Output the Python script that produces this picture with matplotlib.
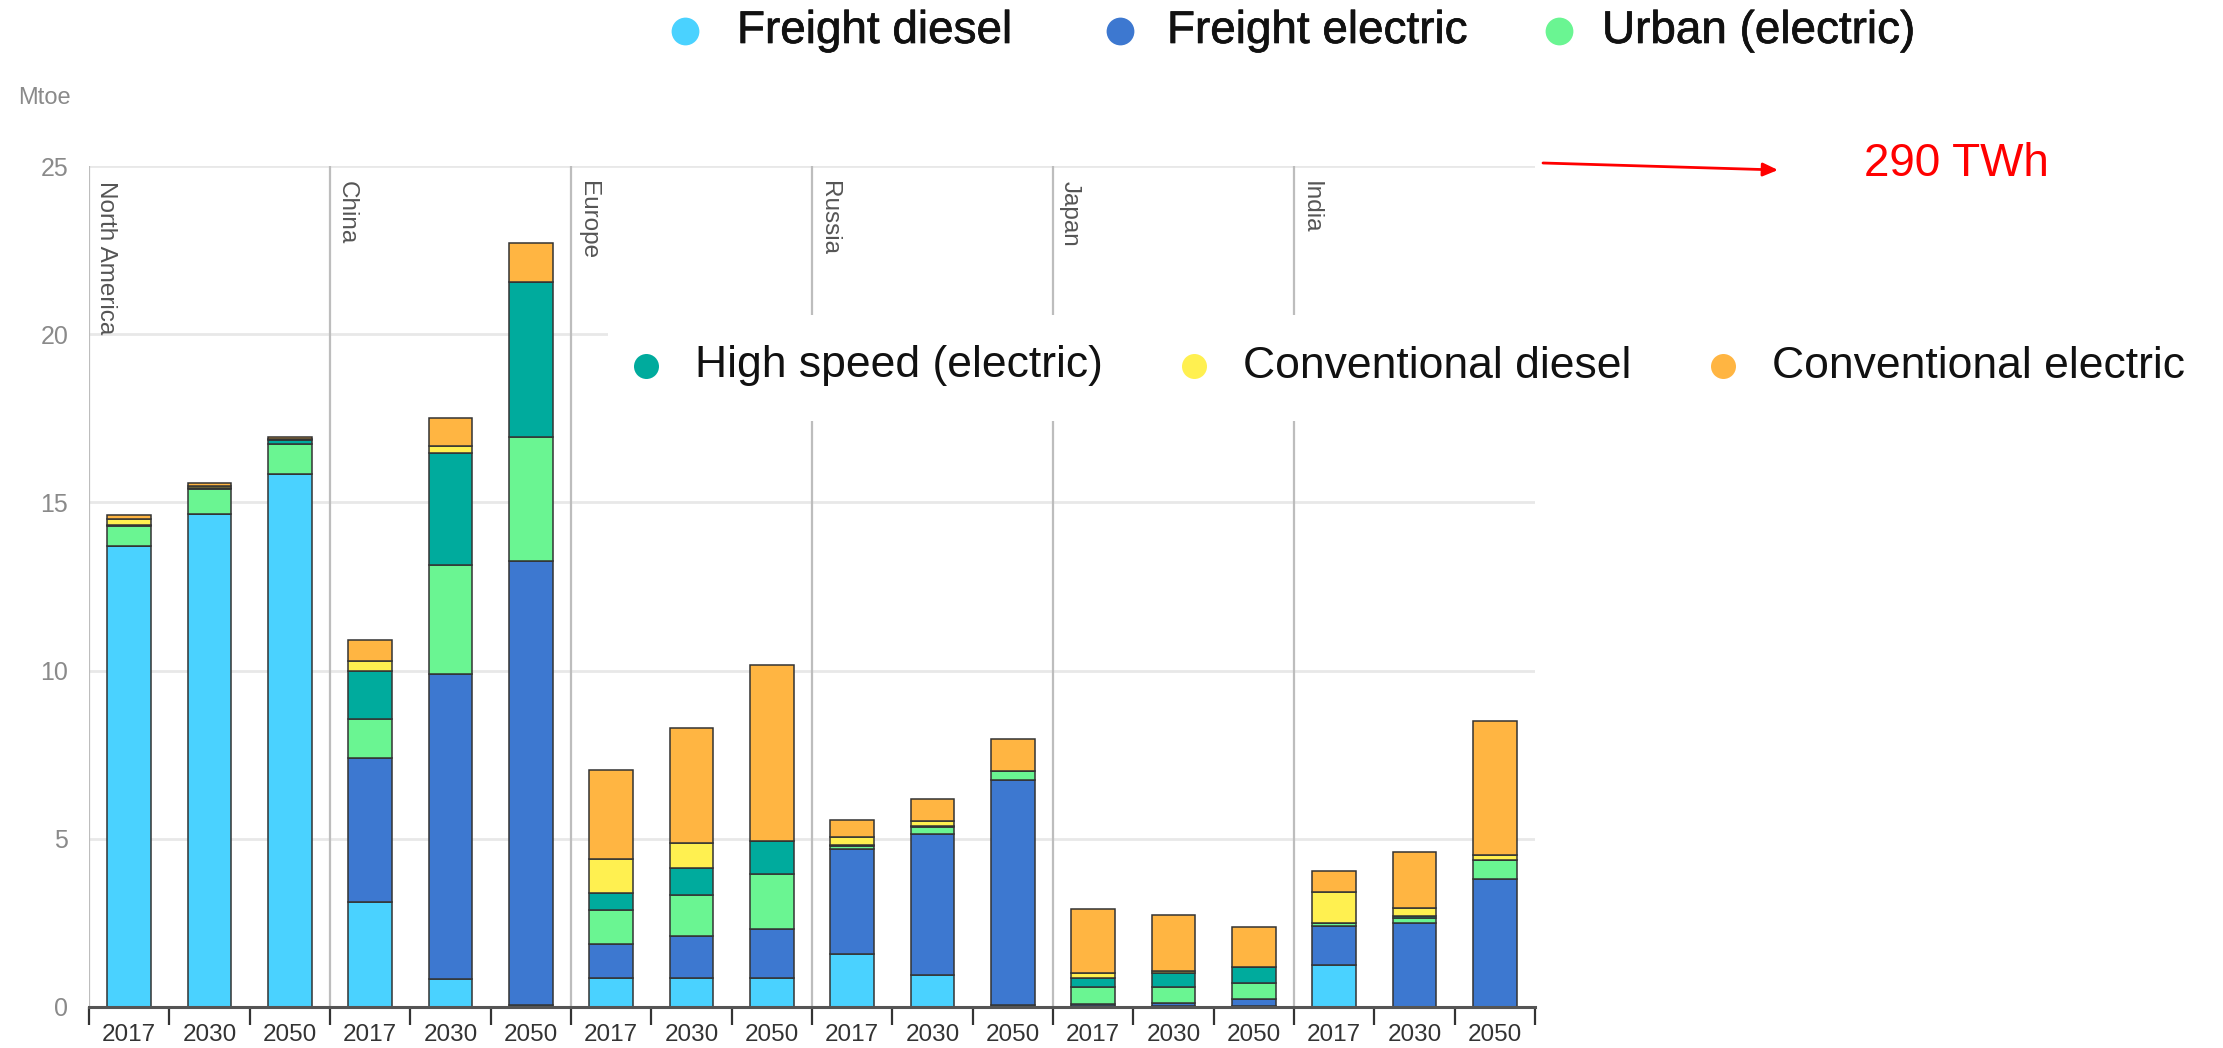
import numpy as np
import matplotlib
matplotlib.use("Agg")
import matplotlib.pyplot as plt
from matplotlib.patches import Rectangle
import matplotlib.patheffects as pe

plt.rcParams['font.family'] = ['Liberation Sans', 'DejaVu Sans']

regions = ["North America", "China", "Europe", "Russia", "Japan", "India"]
years = ["2017", "2030", "2050"]

series_names = ["Freight diesel", "Freight electric", "Urban (electric)",
                "High speed (electric)", "Conventional diesel", "Conventional electric"]
series_colors = ["#4AD2FF", "#3D78D0", "#6AF592", "#00AB9D", "#FFF050", "#FFB542"]

# order: NA(2017,2030,2050), China, Europe, Russia, Japan, India
freight_diesel = [13.70, 14.66, 15.84, 3.12, 0.84, 0.05, 0.87, 0.87, 0.87,
                  1.58, 0.94, 0.06, 0.04, 0.02, 0.02, 1.26, 0.00, 0.00]
freight_electric = [0.00, 0.00, 0.00, 4.28, 9.06, 13.20, 1.01, 1.25, 1.46,
                    3.12, 4.21, 6.69, 0.04, 0.10, 0.22, 1.14, 2.50, 3.80]
urban_electric = [0.60, 0.73, 0.90, 1.17, 3.23, 3.70, 1.00, 1.20, 1.62,
                  0.08, 0.20, 0.28, 0.51, 0.47, 0.48, 0.10, 0.14, 0.57]
high_speed = [0.02, 0.04, 0.11, 1.43, 3.35, 4.59, 0.51, 0.81, 0.97,
              0.03, 0.03, 0.00, 0.28, 0.42, 0.47, 0.00, 0.07, 0.00]
conventional_diesel = [0.20, 0.05, 0.03, 0.29, 0.19, 0.00, 1.02, 0.74, 0.00,
                       0.23, 0.15, 0.00, 0.14, 0.06, 0.00, 0.91, 0.23, 0.15]
conventional_electric = [0.11, 0.10, 0.06, 0.63, 0.85, 1.18, 2.64, 3.43, 5.25,
                         0.53, 0.65, 0.94, 1.89, 1.65, 1.20, 0.62, 1.66, 3.98]

series = [freight_diesel, freight_electric, urban_electric,
          high_speed, conventional_diesel, conventional_electric]

W, H = 2223, 1048
fig = plt.figure(figsize=(W / 100, H / 100), dpi=100)
ax = fig.add_axes([89 / W, 1 - 1007 / H, (1535 - 89) / W, (1007 - 166) / H])

n = len(regions) * len(years)
x = np.arange(n) + 0.5
bottom = np.zeros(n)
for vals, col in zip(series, series_colors):
    v = np.array(vals)
    ax.bar(x, v, width=0.54, bottom=bottom, color=col, edgecolor="#333333",
           linewidth=1.1, zorder=3)
    bottom += v

ax.set_xlim(0, n)
ax.set_ylim(0, 25)

# gridlines
ax.set_yticks([0, 5, 10, 15, 20, 25])
ax.yaxis.grid(True, color="#e8e8e8", linewidth=2.0, zorder=0)
ax.set_axisbelow(True)
ax.tick_params(axis="y", length=0, pad=15, labelsize=18, labelcolor="#8a8a8a")

# group separators
for g in range(len(regions)):
    ax.axvline(g * 3, color="#bdbdbd", linewidth=1.6, zorder=1)
    ax.text(g * 3 + 0.07, 24.55, regions[g], rotation=270, ha="left", va="top",
            fontsize=17.5, color="#555555", zorder=2)

for s in ["top", "right", "left"]:
    ax.spines[s].set_visible(False)
ax.spines["bottom"].set_color("#555555")
ax.spines["bottom"].set_linewidth(2.2)
ax.spines["bottom"].set_zorder(4)

ax.set_xticks(np.arange(0, n + 1), labels=[""] * (n + 1))
ax.tick_params(axis="x", which="major", length=13, width=1.6, color="#333333", direction="out")
ax.set_xticks(x, labels=years * len(regions), minor=True)
ax.tick_params(axis="x", which="minor", length=0, pad=12, labelsize=17.5, labelcolor="#333333")

# overlay for legend/annotations (pixel coordinates)
ov = fig.add_axes([0, 0, 1, 1], zorder=10)
ov.set_xlim(0, W)
ov.set_ylim(H, 0)
ov.axis("off")
ov.patch.set_alpha(0)

ov.text(18, 98, "Mtoe", fontsize=17, color="#8a8a8a", va="center", ha="left")

# top legend (first three series)
top_marker_x = [685, 1120, 1559]
top_text_x = [737, 1167, 1602]
for i in range(3):
    ov.plot(top_marker_x[i], 31, marker="o", ms=20, color=series_colors[i],
            markeredgewidth=0, linestyle="none")
    ov.text(top_text_x[i], 31, series_names[i], fontsize=33, va="center", ha="left",
            color="#111111",
            path_effects=[pe.withStroke(linewidth=0.5, foreground="#111111")])

# middle legend box (last three series)
ov.add_patch(Rectangle((608, 315), W - 608, 106, facecolor="white", edgecolor="none", zorder=1))
mid_marker_x = [646, 1194, 1723]
mid_text_x = [695, 1243, 1772]
for j, i in enumerate(range(3, 6)):
    ov.plot(mid_marker_x[j], 366, marker="o", ms=18, color=series_colors[i],
            markeredgewidth=0, linestyle="none", zorder=2)
    ov.text(mid_text_x[j], 366, series_names[i], fontsize=32, va="center", ha="left",
            color="#111111", zorder=2)

# red arrow and label
ov.annotate("", xy=(1778, 170), xytext=(1543, 163),
            arrowprops=dict(arrowstyle="-|>,head_length=0.9,head_width=0.4",
                            color="#FF0000", lw=2.0, shrinkA=0, shrinkB=0))
ov.text(1864, 164, "290 TWh", fontsize=33, color="#FF0000", va="center", ha="left")

fig.savefig("out.png", dpi=100)
